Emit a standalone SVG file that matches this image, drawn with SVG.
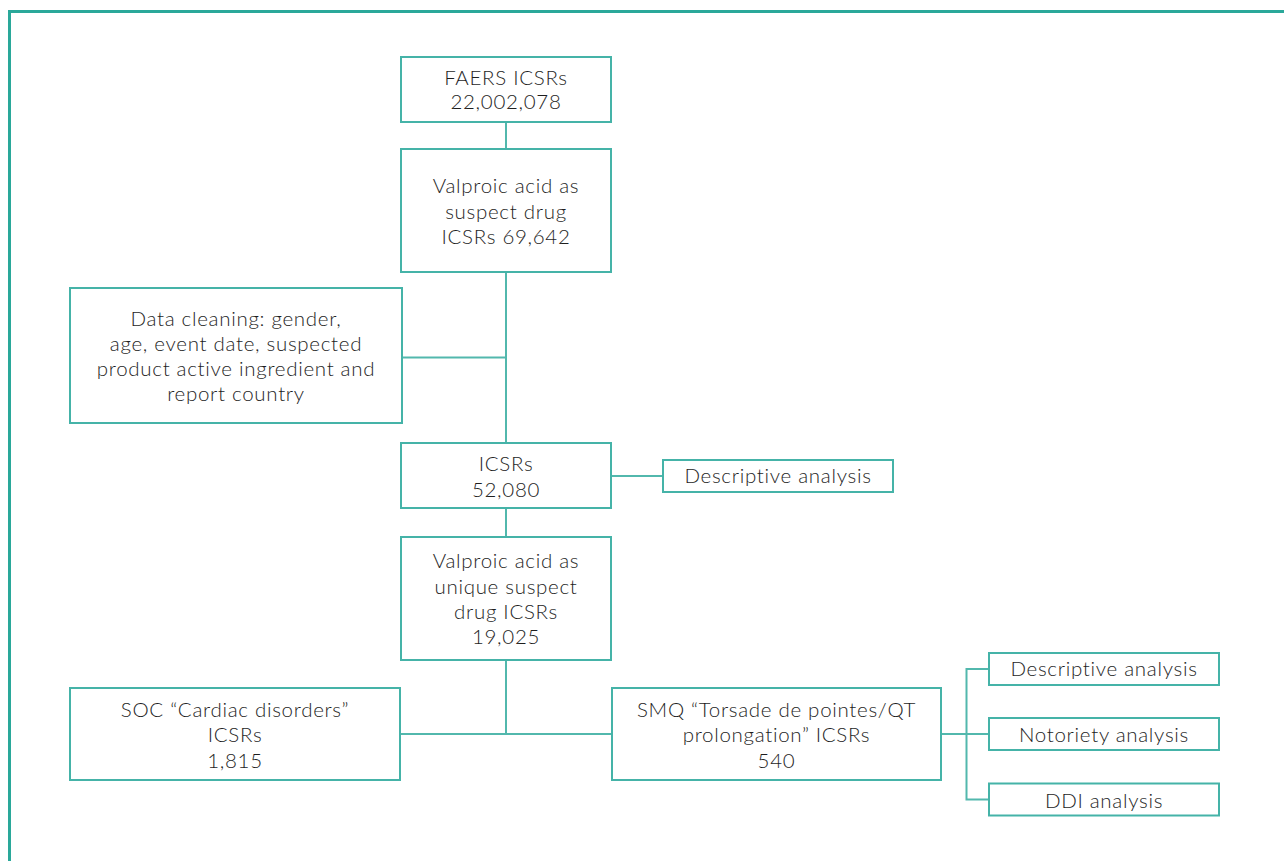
<svg xmlns="http://www.w3.org/2000/svg" width="1284" height="861" viewBox="0 0 1284 861">
<style>
.bg{fill:#ffffff}
.frame{fill:none;stroke:#2aa89a;stroke-width:3}
.box{fill:#ffffff;stroke:#45b3a8;stroke-width:2}
.ln{fill:none;stroke:#52b8ad;stroke-width:2}
text{font-family:Lato,"Noto Sans","Liberation Sans",sans-serif;font-size:20.5px;font-weight:300;letter-spacing:0.7px;fill:#1e1e1e;text-anchor:middle}
</style>
<rect class="bg" x="0" y="0" width="1284" height="861"/>
<path class="frame" d="M9.5,861 V11.5 H1284"/>
<g id="connectors">
<path class="ln" d="M506,122 V149"/>
<path class="ln" d="M506,272 V443"/>
<path class="ln" d="M402,357.5 H506"/>
<path class="ln" d="M611,476 H663"/>
<path class="ln" d="M506,508 V537"/>
<path class="ln" d="M506,660 V734"/>
<path class="ln" d="M400,734 H612"/>
<path class="ln" d="M941,734 H989"/>
<path class="ln" d="M989,669 H966.5 V799.5 H989"/>
</g>
<g id="faers">
<rect class="box" x="401" y="57" width="210" height="65"/>
<text x="506" y="85">FAERS ICSRs</text>
<text x="506" y="109">22,002,078</text>
</g>
<g id="valproic-suspect">
<rect class="box" x="401" y="149" width="210" height="123"/>
<text x="506" y="193">Valproic acid as</text>
<text x="506" y="218.5">suspect drug</text>
<text x="506" y="244">ICSRs 69,642</text>
</g>
<g id="data-cleaning">
<rect class="box" x="70" y="288" width="332" height="135"/>
<text x="236" y="325.5">Data cleaning: gender,</text>
<text x="236" y="350.5">age, event date, suspected</text>
<text x="236" y="375.5">product active ingredient and</text>
<text x="236" y="400.5">report country</text>
</g>
<g id="icsrs">
<rect class="box" x="401" y="443" width="210" height="65"/>
<text x="506" y="471">ICSRs</text>
<text x="506" y="496.5">52,080</text>
</g>
<g id="descriptive-1">
<rect class="box" x="663" y="460" width="230" height="32"/>
<text x="778" y="483">Descriptive analysis</text>
</g>
<g id="valproic-unique">
<rect class="box" x="401" y="537" width="210" height="123"/>
<text x="506" y="568">Valproic acid as</text>
<text x="506" y="594">unique suspect</text>
<text x="506" y="619">drug ICSRs</text>
<text x="506" y="644">19,025</text>
</g>
<g id="soc">
<rect class="box" x="70" y="688" width="330" height="92"/>
<text x="235" y="716.5">SOC “Cardiac disorders”</text>
<text x="235" y="742">ICSRs</text>
<text x="235" y="767.5">1,815</text>
</g>
<g id="smq">
<rect class="box" x="612" y="688" width="329" height="92"/>
<text x="776.5" y="716.5">SMQ “Torsade de pointes/QT</text>
<text x="776.5" y="742">prolongation” ICSRs</text>
<text x="776.5" y="767.5">540</text>
</g>
<g id="descriptive-2">
<rect class="box" x="989" y="653" width="230" height="32"/>
<text x="1104" y="676">Descriptive analysis</text>
</g>
<g id="notoriety">
<rect class="box" x="989" y="718" width="230" height="32"/>
<text x="1104" y="741.5">Notoriety analysis</text>
</g>
<g id="ddi">
<rect class="box" x="989" y="783.5" width="230" height="32"/>
<text x="1104" y="807.5">DDI analysis</text>
</g>
</svg>
